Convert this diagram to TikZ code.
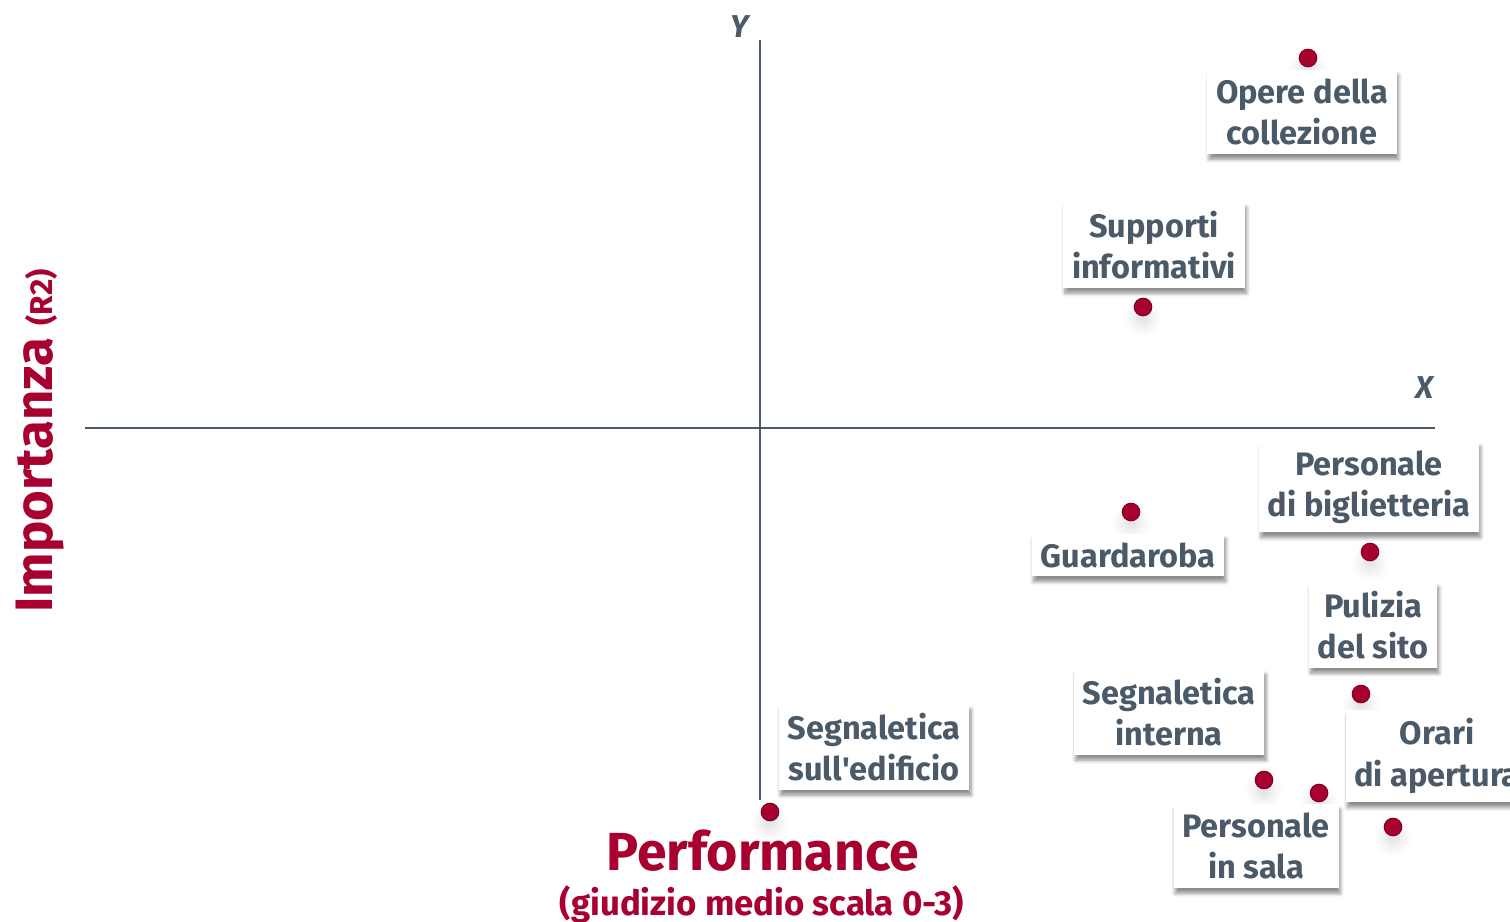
\documentclass[tikz,border=0pt]{standalone}
\usepackage{fontspec}
\setmainfont{Fira Sans}
\usetikzlibrary{shadows.blur}
\definecolor{slate}{HTML}{4A5A68}
\definecolor{bordo}{HTML}{A8002F}

\begin{document}
\begin{tikzpicture}[x=0.02cm, y=-0.02cm,
    lbl/.style={fill=white, align=center, text=slate, inner xsep=5pt, inner ysep=5pt,
      font=\bfseries\fontsize{18.5}{23.5}\selectfont,
      blur shadow={shadow xshift=1pt, shadow yshift=-3pt, shadow blur steps=6, shadow opacity=45}},
    pt/.style={circle, fill=bordo, draw=bordo!75!black, line width=0.6pt,
      minimum size=10pt, inner sep=0pt,
      blur shadow={shadow xshift=0pt, shadow yshift=-6pt, shadow blur radius=6pt, shadow opacity=12}},
    axlbl/.style={text=slate, font=\bfseries\itshape\fontsize{18}{18}\selectfont}]
  \useasboundingbox (0,0) rectangle (1510,922);

  % axes
  \coordinate (ytop) at (760,40);
  \coordinate (ybot) at (760,800);
  \coordinate (xleft) at (85,428);
  \coordinate (xright) at (1435,428);
  \draw[slate, line width=0.6pt] (ybot) -- (ytop);
  \draw[slate, line width=0.6pt] (xleft) -- (xright);
  \node[axlbl] (ylab) at (740,27) {Y};
  \node[axlbl] (xlab) at (1425,388) {X};

  % titoli assi
  \node[rotate=90, anchor=base, text=bordo, font=\bfseries] (imp) at (52,441)
    {\fontsize{30}{30}\selectfont Importanza \fontsize{18}{18}\selectfont(R2)};
  \node[anchor=base, text=bordo, font=\bfseries\fontsize{30.5}{30.5}\selectfont] (perf) at (763,870) {Performance};
  \node[anchor=base, text=bordo, font=\bfseries\fontsize{19.8}{19.8}\selectfont] (scala) at (762,915) {(giudizio medio scala 0-3)};

  % punti
  \node[pt] (p-opere) at (1308,58) {};
  \node[pt] (p-supp) at (1143,307) {};
  \node[pt] (p-guard) at (1131,512) {};
  \node[pt] (p-bigl) at (1370,552) {};
  \node[pt] (p-pul) at (1361,694) {};
  \node[pt] (p-segint) at (1264,780) {};
  \node[pt] (p-sala) at (1319,793) {};
  \node[pt] (p-orari) at (1393,827) {};
  \node[pt] (p-segedi) at (770,812) {};

  % etichette
  \node[lbl] (opere) at (1302,112) {Opere della\\collezione};
  \node[lbl] (supp) at (1154,245) {Supporti\\informativi};
  \node[lbl] (guard) at (1128,555) {Guardaroba};
  \node[lbl] (bigl) at (1369,487) {Personale\\di biglietteria};
  \node[lbl] (pul) at (1373,625) {Pulizia\\del sito};
  \node[lbl] (segint) at (1169,712) {Segnaletica\\interna};
  \node[lbl] (orari) at (1437,756) {Orari\\di apertura};
  \node[lbl] (sala) at (1256,846) {Personale\\in sala};
  \node[lbl] (segedi) at (874,747) {Segnaletica\\sull\textquotesingle edificio};
\end{tikzpicture}
\end{document}
